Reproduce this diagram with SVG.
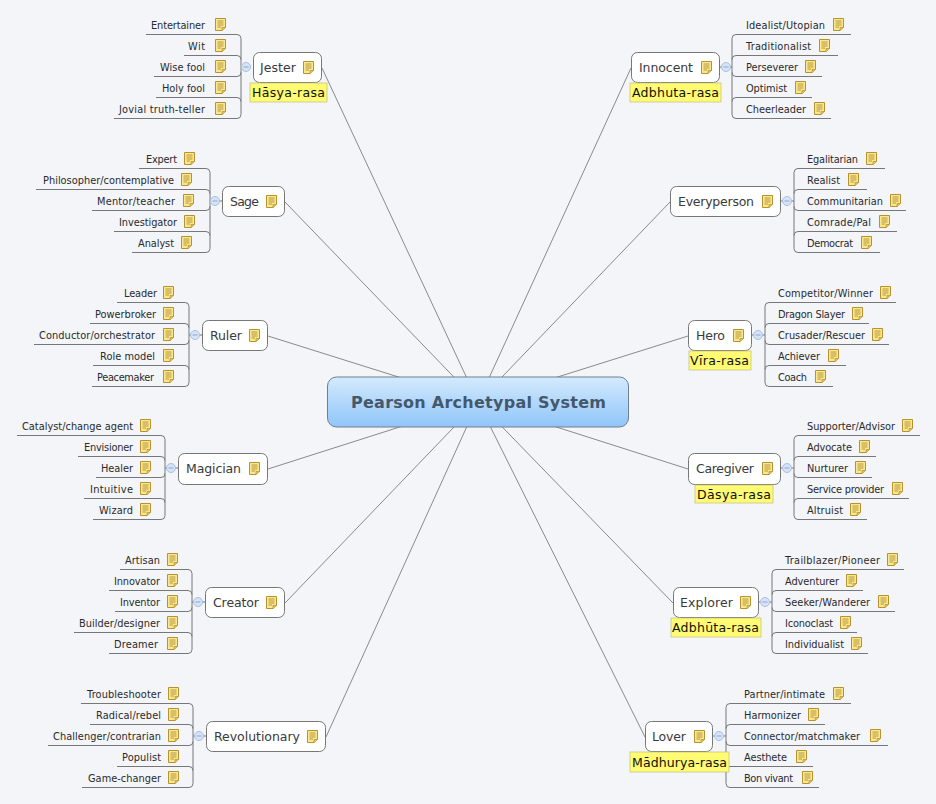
<svg xmlns="http://www.w3.org/2000/svg" width="936" height="804" viewBox="0 0 936 804">
<style>
text{font-family:"DejaVu Sans","Liberation Sans",sans-serif;fill:#2a2a2a}
.l{font-size:9.800px}
.n{font-size:12.500px;fill:#3a3a3a}
.y{font-size:12.500px;fill:#111}
.box{fill:#fff;stroke:#777;stroke-width:1}
.lab{fill:#fffb72;stroke:#c2bd80;stroke-width:.7}
.c{fill:none;stroke:#8a8a8a;stroke-width:1}
.b{fill:none;stroke:#777;stroke-width:1}
.t{font-size:16px;font-weight:bold;fill:#44586b}
.o{fill:#d6e3f6;stroke:#a9c0e2;stroke-width:1}
.m{stroke:#8fa9d0;stroke-width:1}
</style>
<defs>
<linearGradient id="g" x1="0" y1="0" x2="0" y2="1"><stop offset="0" stop-color="#d4eafd"/><stop offset="1" stop-color="#90c5fa"/></linearGradient>
<symbol id="note" width="12" height="14" viewBox="0 0 12 14"><path d="M.5.5H10.500V9.500L7 12.500H.5Z" fill="#f9e88e" stroke="#b8922f"/><path d="M7 12.500V9.500H10.500" fill="#e0c060" stroke="#b8922f" stroke-width=".7"/><path d="M2.500 3H8.500M2.500 5H8.500M2.500 7H8.500M2.500 9H6" stroke="#a8842c" stroke-width=".8"/></symbol>
</defs>
<rect width="936" height="804" fill="#f3f5f9"/>
<g id="connectors">
<path class="c" d="M478 402L322 68M478 402L285 202M478 402L268 336M478 402L268 469M478 402L285 603M478 402L326 737M478 402L631 68M478 402L670 202M478 402L688 336M478 402L688 469M478 402L673 603M478 402L645 737"/>
<path class="b" d="M146 34.500H237Q241 34.500 241 38.500V114.500Q241 118.500 237 118.500H114M184 55.500H237Q241 55.500 241 59.500M154 76.500H237Q241 76.500 241 72.500M156 97.500H237Q241 97.500 241 101.500M241 67H250"/>
<path class="b" d="M139 168.500H206Q210 168.500 210 172.500V248.500Q210 252.500 206 252.500H132M36 189.500H206Q210 189.500 210 193.500M92 210.500H206Q210 210.500 210 206.500M114 231.500H206Q210 231.500 210 235.500M210 201H222"/>
<path class="b" d="M117 302.500H185Q189 302.500 189 306.500V382.500Q189 386.500 185 386.500H92M90 323.500H185Q189 323.500 189 327.500M34 344.500H185Q189 344.500 189 340.500M93 365.500H185Q189 365.500 189 369.500M189 335H202"/>
<path class="b" d="M17 435.500H161Q165 435.500 165 439.500V515.500Q165 519.500 161 519.500H93M78 456.500H161Q165 456.500 165 460.500M96 477.500H161Q165 477.500 165 473.500M84 498.500H161Q165 498.500 165 502.500M165 468H178"/>
<path class="b" d="M120 569.500H188Q192 569.500 192 573.500V649.500Q192 653.500 188 653.500H109M109 590.500H188Q192 590.500 192 594.500M115 611.500H188Q192 611.500 192 607.500M74 632.500H188Q192 632.500 192 636.500M192 602H205"/>
<path class="b" d="M81 703.500H189Q193 703.500 193 707.500V783.500Q193 787.500 189 787.500H82M90 724.500H189Q193 724.500 193 728.500M48 745.500H189Q193 745.500 193 741.500M117 766.500H189Q193 766.500 193 770.500M193 736H206"/>
<path class="b" d="M851 34.500H736Q732 34.500 732 38.500V114.500Q732 118.500 736 118.500H831M838 55.500H736Q732 55.500 732 59.500M822 76.500H736Q732 76.500 732 72.500M812 97.500H736Q732 97.500 732 101.500M720 67H732"/>
<path class="b" d="M885 168.500H798Q794 168.500 794 172.500V248.500Q794 252.500 798 252.500H880M867 189.500H798Q794 189.500 794 193.500M906 210.500H798Q794 210.500 794 206.500M897 231.500H798Q794 231.500 794 235.500M781 201H794"/>
<path class="b" d="M896 302.500H769Q765 302.500 765 306.500V382.500Q765 386.500 769 386.500H833M869 323.500H769Q765 323.500 765 327.500M889 344.500H769Q765 344.500 765 340.500M846 365.500H769Q765 365.500 765 369.500M752 335H765"/>
<path class="b" d="M920 435.500H798Q794 435.500 794 439.500V515.500Q794 519.500 798 519.500H867M876 456.500H798Q794 456.500 794 460.500M872 477.500H798Q794 477.500 794 473.500M909 498.500H798Q794 498.500 794 502.500M781 468H794"/>
<path class="b" d="M904 569.500H776Q772 569.500 772 573.500V649.500Q772 653.500 776 653.500H868M863 590.500H776Q772 590.500 772 594.500M895 611.500H776Q772 611.500 772 607.500M857 632.500H776Q772 632.500 772 636.500M759 602H772"/>
<path class="b" d="M851 703.500H730Q726 703.500 726 707.500V783.500Q726 787.500 730 787.500H819M825 724.500H730Q726 724.500 726 728.500M888 745.500H730Q726 745.500 726 741.500M813 766.500H730Q726 766.500 726 770.500M713 736H726"/>
</g>
<g id="center"><rect x="327.500" y="377" width="301" height="50" rx="9" fill="url(#g)" stroke="#6f7f90"/><text class="t" x="351" y="408" textLength="255">Pearson Archetypal System</text></g>

<g id="jester"><rect class="box" x="253.500" y="52.500" width="68" height="30" rx="6"/><text class="n" x="260" y="72" textLength="36">Jester</text><use href="#note" x="303" y="61"/><circle class="o" cx="246" cy="67" r="4.500"/><path class="m" d="M243.500 67H248.500"/><rect class="lab" x="250" y="83" width="77" height="19"/><text class="y" x="252" y="97" textLength="73">Hāsya-rasa</text></g>
<g id="jester-1"><text class="l" x="151" y="29" textLength="54">Entertainer</text><use href="#note" x="215" y="18"/></g>
<g id="jester-2"><text class="l" x="188" y="50" textLength="17">Wit</text><use href="#note" x="215" y="39"/></g>
<g id="jester-3"><text class="l" x="160" y="71" textLength="45">Wise fool</text><use href="#note" x="215" y="60"/></g>
<g id="jester-4"><text class="l" x="162" y="92" textLength="43">Holy fool</text><use href="#note" x="215" y="81"/></g>
<g id="jester-5"><text class="l" x="119" y="113" textLength="86">Jovial truth-teller</text><use href="#note" x="215" y="102"/></g>

<g id="sage"><rect class="box" x="222.500" y="186.500" width="62" height="30" rx="6"/><text class="n" x="230" y="206" textLength="29">Sage</text><use href="#note" x="266" y="195"/><circle class="o" cx="215" cy="201" r="4.500"/><path class="m" d="M212.500 201H217.500"/></g>
<g id="sage-1"><text class="l" x="146" y="163" textLength="31">Expert</text><use href="#note" x="184" y="152"/></g>
<g id="sage-2"><text class="l" x="43" y="184" textLength="131">Philosopher/contemplative</text><use href="#note" x="181" y="173"/></g>
<g id="sage-3"><text class="l" x="97" y="205" textLength="78">Mentor/teacher</text><use href="#note" x="183" y="194"/></g>
<g id="sage-4"><text class="l" x="119" y="226" textLength="58">Investigator</text><use href="#note" x="184" y="215"/></g>
<g id="sage-5"><text class="l" x="138" y="247" textLength="36">Analyst</text><use href="#note" x="181" y="236"/></g>

<g id="ruler"><rect class="box" x="202.500" y="320.500" width="65" height="30" rx="6"/><text class="n" x="210" y="340" textLength="32">Ruler</text><use href="#note" x="249" y="329"/><circle class="o" cx="195" cy="335" r="4.500"/><path class="m" d="M192.500 335H197.500"/></g>
<g id="ruler-1"><text class="l" x="124" y="297" textLength="33">Leader</text><use href="#note" x="163" y="286"/></g>
<g id="ruler-2"><text class="l" x="95" y="318" textLength="61">Powerbroker</text><use href="#note" x="163" y="307"/></g>
<g id="ruler-3"><text class="l" x="39" y="339" textLength="116">Conductor/orchestrator</text><use href="#note" x="163" y="328"/></g>
<g id="ruler-4"><text class="l" x="100" y="360" textLength="55">Role model</text><use href="#note" x="163" y="349"/></g>
<g id="ruler-5"><text class="l" x="97" y="381" textLength="57">Peacemaker</text><use href="#note" x="163" y="370"/></g>

<g id="magician"><rect class="box" x="178.500" y="453.500" width="89" height="31" rx="6"/><text class="n" x="186" y="473" textLength="55">Magician</text><use href="#note" x="249" y="462"/><circle class="o" cx="171" cy="468" r="4.500"/><path class="m" d="M168.500 468H173.500"/></g>
<g id="magician-1"><text class="l" x="22" y="430" textLength="111">Catalyst/change agent</text><use href="#note" x="140" y="419"/></g>
<g id="magician-2"><text class="l" x="84" y="451" textLength="49">Envisioner</text><use href="#note" x="140" y="440"/></g>
<g id="magician-3"><text class="l" x="101" y="472" textLength="32">Healer</text><use href="#note" x="140" y="461"/></g>
<g id="magician-4"><text class="l" x="90" y="493" textLength="43">Intuitive</text><use href="#note" x="140" y="482"/></g>
<g id="magician-5"><text class="l" x="99" y="514" textLength="34">Wizard</text><use href="#note" x="140" y="503"/></g>

<g id="creator"><rect class="box" x="205.500" y="587.500" width="79" height="30" rx="6"/><text class="n" x="213" y="607" textLength="46">Creator</text><use href="#note" x="266" y="596"/><circle class="o" cx="198" cy="602" r="4.500"/><path class="m" d="M195.500 602H200.500"/></g>
<g id="creator-1"><text class="l" x="125" y="564" textLength="35">Artisan</text><use href="#note" x="167" y="553"/></g>
<g id="creator-2"><text class="l" x="114" y="585" textLength="46">Innovator</text><use href="#note" x="167" y="574"/></g>
<g id="creator-3"><text class="l" x="120" y="606" textLength="40">Inventor</text><use href="#note" x="167" y="595"/></g>
<g id="creator-4"><text class="l" x="79" y="627" textLength="81">Builder/designer</text><use href="#note" x="167" y="616"/></g>
<g id="creator-5"><text class="l" x="114" y="648" textLength="44">Dreamer</text><use href="#note" x="167" y="637"/></g>

<g id="revolutionary"><rect class="box" x="206.500" y="721.500" width="119" height="30" rx="6"/><text class="n" x="214" y="741" textLength="86">Revolutionary</text><use href="#note" x="307" y="730"/><circle class="o" cx="199" cy="736" r="4.500"/><path class="m" d="M196.500 736H201.500"/></g>
<g id="revolutionary-1"><text class="l" x="87" y="698" textLength="74">Troubleshooter</text><use href="#note" x="168" y="687"/></g>
<g id="revolutionary-2"><text class="l" x="96" y="719" textLength="65">Radical/rebel</text><use href="#note" x="168" y="708"/></g>
<g id="revolutionary-3"><text class="l" x="53" y="740" textLength="108">Challenger/contrarian</text><use href="#note" x="168" y="729"/></g>
<g id="revolutionary-4"><text class="l" x="122" y="761" textLength="39">Populist</text><use href="#note" x="168" y="750"/></g>
<g id="revolutionary-5"><text class="l" x="88" y="782" textLength="73">Game-changer</text><use href="#note" x="168" y="771"/></g>

<g id="innocent"><rect class="box" x="631.500" y="52.500" width="88" height="30" rx="6"/><text class="n" x="639" y="72" textLength="54">Innocent</text><use href="#note" x="701" y="61"/><circle class="o" cx="726" cy="67" r="4.500"/><path class="m" d="M723.500 67H728.500"/><rect class="lab" x="630" y="83" width="91" height="19"/><text class="y" x="632" y="97" textLength="87">Adbhuta-rasa</text></g>
<g id="innocent-1"><text class="l" x="746" y="29" textLength="79">Idealist/Utopian</text><use href="#note" x="833" y="18"/></g>
<g id="innocent-2"><text class="l" x="746" y="50" textLength="65">Traditionalist</text><use href="#note" x="819" y="39"/></g>
<g id="innocent-3"><text class="l" x="746" y="71" textLength="52">Perseverer</text><use href="#note" x="805" y="60"/></g>
<g id="innocent-4"><text class="l" x="746" y="92" textLength="41">Optimist</text><use href="#note" x="795" y="81"/></g>
<g id="innocent-5"><text class="l" x="746" y="113" textLength="60">Cheerleader</text><use href="#note" x="814" y="102"/></g>

<g id="everyperson"><rect class="box" x="670.500" y="186.500" width="110" height="30" rx="6"/><text class="n" x="678" y="206" textLength="76">Everyperson</text><use href="#note" x="762" y="195"/><circle class="o" cx="787" cy="201" r="4.500"/><path class="m" d="M784.500 201H789.500"/></g>
<g id="everyperson-1"><text class="l" x="807" y="163" textLength="51">Egalitarian</text><use href="#note" x="866" y="152"/></g>
<g id="everyperson-2"><text class="l" x="807" y="184" textLength="33">Realist</text><use href="#note" x="848" y="173"/></g>
<g id="everyperson-3"><text class="l" x="807" y="205" textLength="76">Communitarian</text><use href="#note" x="890" y="194"/></g>
<g id="everyperson-4"><text class="l" x="807" y="226" textLength="64">Comrade/Pal</text><use href="#note" x="879" y="215"/></g>
<g id="everyperson-5"><text class="l" x="807" y="247" textLength="46">Democrat</text><use href="#note" x="861" y="236"/></g>

<g id="hero"><rect class="box" x="688.500" y="320.500" width="63" height="30" rx="6"/><text class="n" x="696" y="340" textLength="29">Hero</text><use href="#note" x="733" y="329"/><circle class="o" cx="758" cy="335" r="4.500"/><path class="m" d="M755.500 335H760.500"/><rect class="lab" x="689" y="351" width="62" height="19"/><text class="y" x="690" y="365" textLength="59">Vīra-rasa</text></g>
<g id="hero-1"><text class="l" x="778" y="297" textLength="95">Competitor/Winner</text><use href="#note" x="880" y="286"/></g>
<g id="hero-2"><text class="l" x="778" y="318" textLength="67">Dragon Slayer</text><use href="#note" x="852" y="307"/></g>
<g id="hero-3"><text class="l" x="778" y="339" textLength="87">Crusader/Rescuer</text><use href="#note" x="872" y="328"/></g>
<g id="hero-4"><text class="l" x="778" y="360" textLength="42">Achiever</text><use href="#note" x="828" y="349"/></g>
<g id="hero-5"><text class="l" x="778" y="381" textLength="29">Coach</text><use href="#note" x="815" y="370"/></g>

<g id="caregiver"><rect class="box" x="688.500" y="453.500" width="92" height="31" rx="6"/><text class="n" x="696" y="473" textLength="58">Caregiver</text><use href="#note" x="762" y="462"/><circle class="o" cx="787" cy="468" r="4.500"/><path class="m" d="M784.500 468H789.500"/><rect class="lab" x="695" y="485" width="78" height="18"/><text class="y" x="697" y="499" textLength="74">Dāsya-rasa</text></g>
<g id="caregiver-1"><text class="l" x="807" y="430" textLength="88">Supporter/Advisor</text><use href="#note" x="902" y="419"/></g>
<g id="caregiver-2"><text class="l" x="807" y="451" textLength="45">Advocate</text><use href="#note" x="859" y="440"/></g>
<g id="caregiver-3"><text class="l" x="807" y="472" textLength="41">Nurturer</text><use href="#note" x="855" y="461"/></g>
<g id="caregiver-4"><text class="l" x="807" y="493" textLength="77">Service provider</text><use href="#note" x="892" y="482"/></g>
<g id="caregiver-5"><text class="l" x="807" y="514" textLength="36">Altruist</text><use href="#note" x="850" y="503"/></g>

<g id="explorer"><rect class="box" x="673.500" y="587.500" width="85" height="30" rx="6"/><text class="n" x="680" y="607" textLength="53">Explorer</text><use href="#note" x="740" y="596"/><circle class="o" cx="765" cy="602" r="4.500"/><path class="m" d="M762.500 602H767.500"/><rect class="lab" x="671" y="618" width="90" height="19"/><text class="y" x="672" y="632" textLength="87">Adbhūta-rasa</text></g>
<g id="explorer-1"><text class="l" x="785" y="564" textLength="95">Trailblazer/Pioneer</text><use href="#note" x="887" y="553"/></g>
<g id="explorer-2"><text class="l" x="785" y="585" textLength="54">Adventurer</text><use href="#note" x="846" y="574"/></g>
<g id="explorer-3"><text class="l" x="785" y="606" textLength="85">Seeker/Wanderer</text><use href="#note" x="878" y="595"/></g>
<g id="explorer-4"><text class="l" x="785" y="627" textLength="48">Iconoclast</text><use href="#note" x="840" y="616"/></g>
<g id="explorer-5"><text class="l" x="785" y="648" textLength="59">Individualist</text><use href="#note" x="851" y="637"/></g>

<g id="lover"><rect class="box" x="645.500" y="721.500" width="67" height="30" rx="6"/><text class="n" x="652" y="741" textLength="34">Lover</text><use href="#note" x="694" y="730"/><circle class="o" cx="719" cy="736" r="4.500"/><path class="m" d="M716.500 736H721.500"/><rect class="lab" x="630" y="752" width="99" height="20"/><text class="y" x="632" y="767" textLength="95">Mādhurya-rasa</text></g>
<g id="lover-1"><text class="l" x="744" y="698" textLength="81">Partner/intimate</text><use href="#note" x="833" y="687"/></g>
<g id="lover-2"><text class="l" x="744" y="719" textLength="57">Harmonizer</text><use href="#note" x="808" y="708"/></g>
<g id="lover-3"><text class="l" x="744" y="740" textLength="116">Connector/matchmaker</text><use href="#note" x="870" y="729"/></g>
<g id="lover-4"><text class="l" x="744" y="761" textLength="43">Aesthete</text><use href="#note" x="796" y="750"/></g>
<g id="lover-5"><text class="l" x="744" y="782" textLength="49">Bon vivant</text><use href="#note" x="802" y="771"/></g>
</svg>
